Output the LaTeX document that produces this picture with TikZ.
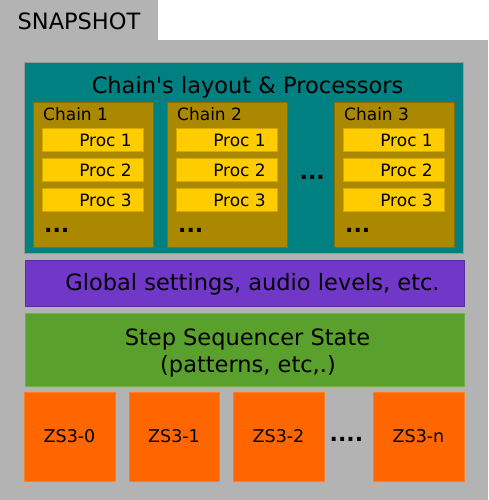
\documentclass[tikz,border=0pt]{standalone}
\usepackage{fontspec}
\setmainfont{DejaVu Sans}[Ligatures=TeXOff]
\definecolor{bggray}{HTML}{B3B3B3}
\definecolor{tealbox}{HTML}{008080}
\definecolor{chainbox}{HTML}{AA8800}
\definecolor{procbox}{HTML}{FFCC00}
\definecolor{procline}{HTML}{D4AA00}
\definecolor{purplebox}{HTML}{7137C8}
\definecolor{greenbox}{HTML}{5AA02C}
\definecolor{orangebox}{HTML}{FF6600}
\begin{document}
\begin{tikzpicture}[x=1pt,y=-1pt,
  panel/.style={draw=#1!80!black, line width=0.8pt, fill=#1},
  txt/.style={inner sep=0pt, anchor=base, text=black},
  bigtxt/.style={txt, font=\fontsize{22.5}{27}\selectfont},
  midtxt/.style={txt, font=\fontsize{17}{20}\selectfont},
  dotstxt/.style={inner sep=0pt, anchor=base west, font=\fontsize{22}{26}\selectfont\bfseries}
]
\useasboundingbox (0,0) rectangle (488,500);
% background
\fill[bggray] (0,40) rectangle (488,500);
\fill[bggray] (0,0) rectangle (158,40);
\node[bigtxt] (snap) at (79,29.3) {SNAPSHOT};
% teal container
\path[panel=tealbox, draw=bggray!85!black] (24,62) rectangle (463,253);
\node[bigtxt] (title) at (247.5,93.3) {Chain's layout \& Processors};
% chains
\foreach \cx/\n in {33/1,167/2,334/3}{
  \path[panel=chainbox] (\cx,102) rectangle ++(120,145);
  \node[midtxt, anchor=base west] (chain\n) at ({\cx+10},120.7) {Chain \n};
  \foreach \py/\k/\b in {128/1/146.7,158/2/176.7,188/3/206.2}{
    \path[draw=procline, line width=0.8pt, fill=procbox] ({\cx+9},\py) rectangle ++(101,23);
    \node[midtxt, anchor=base east] (p\n\k) at ({\cx+99},\b) {Proc \k};
  }
  \node[dotstxt] (cdots\n) at ({\cx+11},232.7) {...};
}
\node[dotstxt] (middots) at (299.5,179.3) {...};
% purple
\path[panel=purplebox] (25,260) rectangle (464,306);
\node[bigtxt] (glob) at (252.5,290) {Global settings, audio levels, etc.};
% green
\path[panel=greenbox, draw=greenbox!85!white] (25,313) rectangle (464,386);
\node[bigtxt] (step1) at (247.5,345) {Step Sequencer State};
\node[bigtxt] (step2) at (248,372) {(patterns, etc,.)};
% orange boxes
\foreach \ox/\w/\lab/\nm in {24/91/ZS3-0/z0,129/90/ZS3-1/z1,233/91/ZS3-2/z2,373/91/ZS3-n/zn}{
  \path[fill=orangebox, draw=orangebox!85!white, line width=0.8pt] (\ox,392) rectangle ++(\w,89);
  \node[txt, font=\fontsize{17.5}{21}\selectfont] (\nm) at ({\ox+\w/2},442.7) {\lab};
}
\node[dotstxt] (zdots) at (329.5,441.7) {....};
\end{tikzpicture}
\end{document}
